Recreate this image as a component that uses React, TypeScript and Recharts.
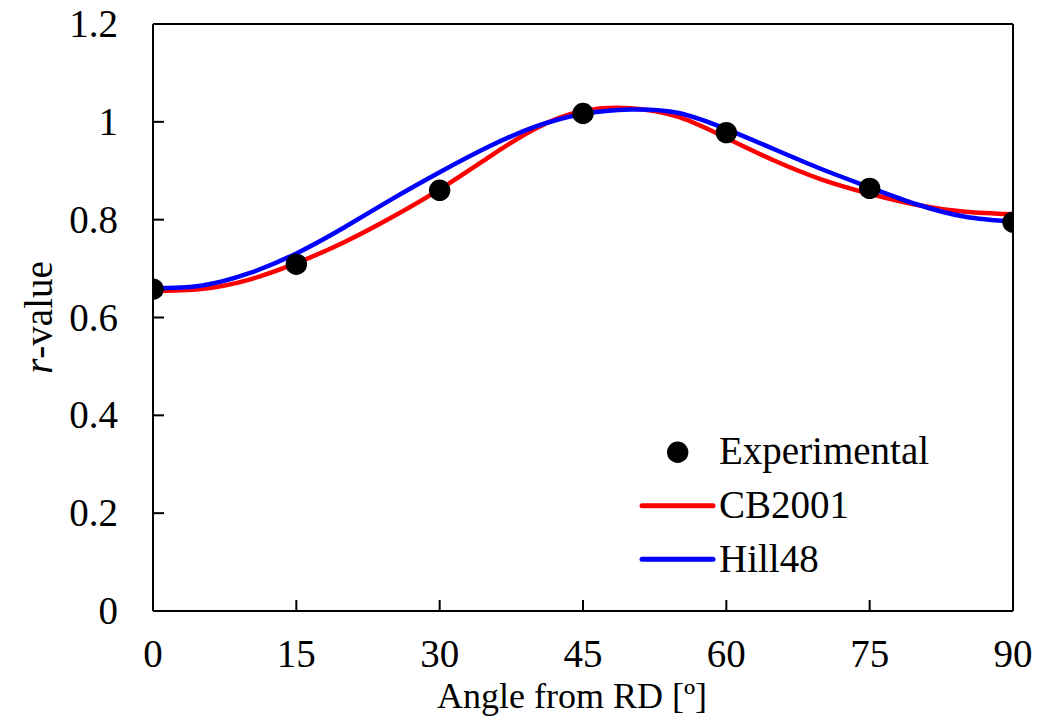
import React from 'react';
import { ComposedChart, Line, Scatter, XAxis, YAxis, ReferenceLine, Legend } from 'recharts';

const angles = [0, 5, 10, 15, 20, 25, 30, 35, 40, 45, 50, 55, 60, 65, 70, 75, 80, 85, 90];
const cb2001 = [0.654, 0.658, 0.677, 0.711, 0.754, 0.805, 0.862, 0.926, 0.986, 1.022, 1.028, 1.01, 0.967, 0.921, 0.882, 0.853, 0.83, 0.816, 0.811];
const hill48 = [0.66, 0.665, 0.69, 0.731, 0.784, 0.842, 0.897, 0.948, 0.99, 1.016, 1.025, 1.018, 0.985, 0.944, 0.903, 0.866, 0.831, 0.806, 0.796];
const expAngles = [0, 15, 30, 45, 60, 75, 90];
const expValues = [0.658, 0.709, 0.86, 1.017, 0.978, 0.864, 0.795];
const xTicks = [0, 15, 30, 45, 60, 75, 90];
const yTicks = [0, 0.2, 0.4, 0.6, 0.8, 1, 1.2];
const seriesNames = ['Experimental', 'CB2001', 'Hill48'];
const xTitle = 'Angle from RD [º]';

const curveData = angles.map((a, i) => ({ angle: a, cb2001: cb2001[i], hill48: hill48[i] }));
const expData = expAngles.map((a, i) => ({ angle: a, exp: expValues[i] }));

const FONT = '"Liberation Serif", "Times New Roman", serif';
const FS = 39;
const TS: React.CSSProperties = { fontFamily: FONT, fontSize: FS };
const TITLE_X: React.CSSProperties = { fontFamily: FONT, fontSize: 36 };

const YTick = (props: any) => {
  const { x, y, payload } = props;
  return (
    <g>
      <line x1={x} x2={x + 11} y1={y} y2={y} stroke="#000" strokeWidth={2} />
      <text x={x - 35} y={y + 13} textAnchor="end" style={TS} fill="#000">
        {String(payload.value)}
      </text>
    </g>
  );
};

const XTick = (props: any) => {
  const { x, y, payload } = props;
  return (
    <g>
      <line x1={x} x2={x} y1={y} y2={y - 11} stroke="#000" strokeWidth={2} />
      <text x={x} y={y + 56} textAnchor="middle" style={TS} fill="#000">
        {String(payload.value)}
      </text>
    </g>
  );
};

const LegendBox = () => (
  <svg width={320} height={170} style={{ display: 'block' }}>
    <circle cx={39.7} cy={24.3} r={10.7} fill="#000" />
    <text x={81} y={36.3} style={TS} fill="#000">{seriesNames[0]}</text>
    <line x1={4} x2={75} y1={77.7} y2={77.7} stroke="#ff0000" strokeWidth={5} strokeLinecap="round" />
    <text x={81} y={90.3} style={TS} fill="#000">{seriesNames[1]}</text>
    <line x1={4} x2={75} y1={131.3} y2={131.3} stroke="#0000ff" strokeWidth={5} strokeLinecap="round" />
    <text x={81} y={143.7} style={TS} fill="#000">{seriesNames[2]}</text>
  </svg>
);

export default function App() {
  return (
    <div style={{ margin: '-8px', width: 1048, height: 724, background: '#fff', fontFamily: FONT }}>
      <ComposedChart
        width={1048}
        height={724}
        data={curveData}
        margin={{ top: 24, right: 35, left: 0, bottom: 13 }}
        style={{ overflow: 'visible' }}
      >
        <XAxis
          dataKey="angle"
          type="number"
          domain={[0, 90]}
          ticks={xTicks}
          allowDataOverflow
          tickSize={0}
          tickMargin={0}
          tickLine={false}
          axisLine={{ stroke: '#000', strokeWidth: 2 }}
          tick={<XTick />}
          height={100}
          interval={0}
          label={{
            content: () => (
              <text x={572} y={708} textAnchor="middle" style={TITLE_X} fill="#000">
                {xTitle}
              </text>
            ),
          }}
        />
        <YAxis
          type="number"
          domain={[0, 1.2]}
          ticks={yTicks}
          allowDataOverflow
          tickSize={0}
          tickMargin={0}
          tickLine={false}
          axisLine={{ stroke: '#000', strokeWidth: 2 }}
          tick={<YTick />}
          width={153}
          interval={0}
          label={{
            content: () => (
              <text
                x={52}
                y={317.5}
                textAnchor="middle"
                style={TS}
                fill="#000"
                transform="rotate(-90, 52, 317.5)"
              >
                <tspan fontStyle="italic">r</tspan>
                <tspan>-value</tspan>
              </text>
            ),
          }}
        />
        <ReferenceLine y={1.2} stroke="#000" strokeWidth={2} />
        <ReferenceLine x={90} stroke="#000" strokeWidth={2} />
        <Line
          type="natural"
          dataKey="cb2001"
          name={seriesNames[1]}
          stroke="#ff0000"
          strokeWidth={4.5}
          dot={false}
          activeDot={false}
          isAnimationActive={false}
        />
        <Line
          type="natural"
          dataKey="hill48"
          name={seriesNames[2]}
          stroke="#0000ff"
          strokeWidth={4.5}
          dot={false}
          activeDot={false}
          isAnimationActive={false}
        />
        <Scatter
          data={expData}
          dataKey="exp"
          name={seriesNames[0]}
          fill="#000"
          isAnimationActive={false}
          shape={(p: any) => <circle cx={p.cx} cy={p.cy} r={10.7} fill="#000" />}
        />
        <Legend
          layout="vertical"
          align="center"
          verticalAlign="middle"
          content={() => <LegendBox />}
          wrapperStyle={{ left: 638, top: 428, width: 320, height: 170, right: 'auto', bottom: 'auto' }}
        />
      </ComposedChart>
    </div>
  );
}
